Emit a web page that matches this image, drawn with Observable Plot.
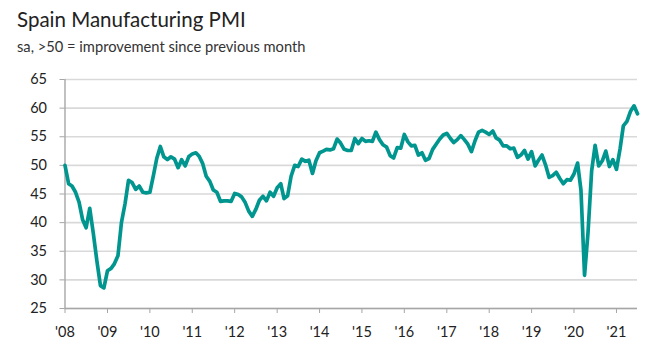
<!DOCTYPE html>
<html><head><meta charset="utf-8">
<script src="https://cdn.jsdelivr.net/npm/d3@7"></script>
<script src="https://cdn.jsdelivr.net/npm/@observablehq/plot@0.6"></script>
<style>
body{margin:0;background:#fff;font-family:Lato, sans-serif;}
#wrap{position:relative;width:664px;height:355px;overflow:hidden;}
#title{position:absolute;left:17px;top:7px;font-size:20.5px;color:#222;white-space:nowrap;}
#sub{position:absolute;left:17px;top:37px;font-size:14.7px;color:#333;white-space:nowrap;}
#chart{position:absolute;left:0;top:60px;}
</style></head>
<body><div id="wrap"><div id="title">Spain Manufacturing PMI</div><div id="sub">sa, &gt;50 = improvement since previous month</div><div id="chart"></div></div>
<script>
const years = [2008,2009,2010,2011,2012,2013,2014,2015,2016,2017,2018,2019,2020,2021];
const pmi2008 = [50.0, 46.8, 46.4, 45.3, 43.6, 40.5, 39.1, 42.5, 38.1, 33.4, 29.0, 28.6];
const pmi2009 = [31.6, 32.0, 32.8, 34.2, 40.0, 43.3, 47.4, 47.0, 45.8, 46.4, 45.3, 45.2];
const pmi2010 = [45.3, 48.3, 51.2, 53.3, 51.5, 51.0, 51.5, 51.1, 49.6, 51.0, 49.9, 51.5];
const pmi2011 = [52.0, 52.2, 51.6, 50.3, 48.1, 47.2, 45.7, 45.3, 43.7, 43.8, 43.8, 43.7];
const pmi2012 = [45.1, 44.9, 44.5, 43.5, 42.0, 41.1, 42.3, 43.9, 44.6, 43.8, 45.3, 44.6];
const pmi2013 = [46.1, 46.8, 44.2, 44.7, 48.1, 50.0, 49.8, 51.1, 50.7, 50.9, 48.6, 50.8];
const pmi2014 = [52.2, 52.5, 52.8, 52.7, 52.9, 54.6, 53.9, 52.8, 52.6, 52.6, 54.7, 53.8];
const pmi2015 = [54.7, 54.2, 54.3, 54.2, 55.8, 54.5, 53.6, 53.2, 51.7, 51.3, 53.1, 53.0];
const pmi2016 = [55.4, 54.1, 53.4, 53.5, 51.8, 52.2, 50.9, 51.2, 52.8, 53.7, 54.6, 55.3];
const pmi2017 = [55.6, 54.7, 54.0, 54.5, 55.2, 54.5, 53.7, 52.4, 54.3, 55.8, 56.1, 55.8];
const pmi2018 = [55.4, 56.0, 54.8, 54.4, 53.4, 53.4, 52.9, 53.0, 51.4, 51.8, 52.6, 51.1];
const pmi2019 = [52.4, 49.9, 50.9, 51.8, 50.1, 47.9, 48.2, 48.8, 47.7, 46.8, 47.5, 47.4];
const pmi2020 = [48.5, 50.4, 45.7, 30.8, 38.3, 49.0, 53.5, 49.9, 50.8, 52.5, 49.8, 51.0];
const pmi2021 = [49.3, 52.9, 56.9, 57.7, 59.4, 60.4, 59.0];
const yearlyValues = [pmi2008,pmi2009,pmi2010,pmi2011,pmi2012,pmi2013,pmi2014,pmi2015,pmi2016,pmi2017,pmi2018,pmi2019,pmi2020,pmi2021];
const yTicks = [25,30,35,40,45,50,55,60,65];
const xTickYears = [2008,2009,2010,2011,2012,2013,2014,2015,2016,2017,2018,2019,2020,2021];

const data = [];
years.forEach((y,i) => yearlyValues[i].forEach((v,m) => data.push({date: new Date(Date.UTC(y,m,1)), pmi: v})));
const xStart = data[0].date;
const xEnd = data[data.length-1].date;
const xTicks = xTickYears.map(y => new Date(Date.UTC(y,0,1)));

const chart = Plot.plot({
  width: 664, height: 295,
  marginTop: 19, marginBottom: 47, marginLeft: 64.5, marginRight: 27,
  style: {fontFamily: "Lato, sans-serif", fontSize: "14px", color: "#222", background: "#fff"},
  x: {type: "utc", domain: [xStart, xEnd]},
  y: {domain: [25, 65]},
  marks: [
    Plot.gridY(yTicks, {stroke: "#d9d9d9", strokeOpacity: 1, strokeWidth: 1.6}),
    Plot.ruleY([25], {stroke: "#a6a6a6", strokeWidth: 1.4}),
    Plot.ruleX([xStart], {y1: 25, y2: 65, stroke: "#a6a6a6", strokeWidth: 1.4}),
    Plot.axisY(yTicks, {tickSize: 5, tickPadding: 13, stroke: "#a6a6a6", strokeOpacity: 1, fill: "#222", label: null, fontSize: 14.5}),
    Plot.axisX(xTicks, {tickSize: 5, tickPadding: 13, stroke: "#a6a6a6", strokeOpacity: 1, fill: "#222", label: null, fontSize: 14.5,
      tickFormat: d => "'" + String(d.getUTCFullYear()).slice(2)}),
    Plot.lineY(data, {x: "date", y: "pmi", stroke: "#00968f", strokeWidth: 3.7, strokeLinejoin: "round", strokeLinecap: "round"})
  ]
});
document.getElementById("chart").appendChild(chart);
</script>
</body></html>
